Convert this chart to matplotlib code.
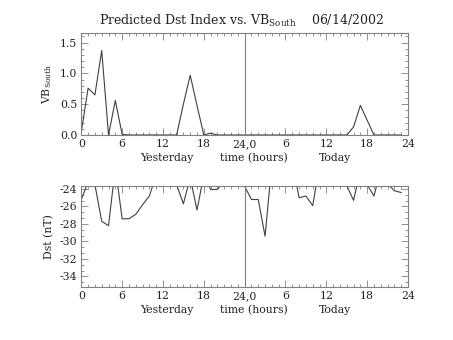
import matplotlib
matplotlib.use("Agg")
import matplotlib.pyplot as plt
from matplotlib.ticker import MultipleLocator, FixedLocator, FixedFormatter
import numpy as np

hours = list(range(48))
vb_south = [0.05, 0.76, 0.65, 1.37, 0.0, 0.56, 0.01, 0.0, 0.0, 0.0, 0.0, 0.0,
            0.0, 0.0, 0.0, 0.50, 0.97, 0.48, 0.0, 0.03, 0.0, 0.0, 0.0, 0.0,
            0.0, 0.0, 0.0, 0.0, 0.0, 0.0, 0.0, 0.0, 0.0, 0.0, 0.0, 0.0,
            0.0, 0.0, 0.0, 0.0, 0.13, 0.48, 0.24, 0.0, 0.0, 0.0, 0.0, 0.0]
dst = [-25.2, -23.2, -23.5, -27.7, -28.2, -21.5, -27.4, -27.4, -26.9, -25.8, -24.8, -22.4,
       -22.0, -21.5, -23.5, -25.7, -22.7, -26.4, -22.4, -24.05, -24.05, -23.0, -22.0, -22.5,
       -23.7, -25.2, -25.2, -29.4, -21.1, -21.5, -22.0, -21.0, -25.0, -24.8, -25.9, -21.3,
       -21.5, -22.0, -22.5, -23.6, -25.3, -21.9, -23.5, -24.8, -21.85, -23.4, -24.2, -24.4]
xtick_vals = [0, 6, 12, 18, 24, 30, 36, 42, 48]
xtick_labels = ["0", "6", "12", "18", "24,0", "6", "12", "18", "24"]
vb_ticks = [0.0, 0.5, 1.0, 1.5]
dst_ticks = [-24, -26, -28, -30, -32, -34]

plt.rcParams['font.family'] = ['DejaVu Serif']
plt.rcParams['mathtext.fontset'] = 'dejavuserif'
plt.rcParams['axes.unicode_minus'] = False

fig = plt.figure(figsize=(4.53, 3.4), dpi=100)
W, H = 453, 340
def rect(l, r, t, b):
    return [l / W, (H - b) / H, (r - l) / W, (b - t) / H]

ax1 = fig.add_axes(rect(81.3, 408, 33.3, 135))
ax2 = fig.add_axes(rect(81.3, 408, 185.7, 287.3))

axc = '#808080'
lc = '#404040'
fs = 7.8

def style(ax):
    for s in ax.spines.values():
        s.set_color(axc)
        s.set_linewidth(0.8)
    ax.set_xlim(0, 48)
    ax.xaxis.set_major_locator(FixedLocator(xtick_vals))
    ax.xaxis.set_major_formatter(FixedFormatter(xtick_labels))
    ax.xaxis.set_minor_locator(MultipleLocator(1))
    ax.tick_params(which='both', direction='in', top=True, right=True,
                   color=axc, labelsize=fs, labelcolor='#222222', width=0.6)
    ax.tick_params(which='major', length=5, pad=3)
    ax.tick_params(which='minor', length=2.5)
    ax.axvline(24, color=axc, lw=0.8)
    for x, s in [(12.5, "Yesterday"), (25.3, "time (hours)"), (37.3, "Today")]:
        ax.text(x, -0.175, s, transform=ax.get_xaxis_transform(),
                ha='center', va='top', fontsize=fs, color='#222222')

ax1.plot(hours, vb_south, color=lc, lw=0.8)
ax1.set_ylim(0, 1.65)
ax1.yaxis.set_major_locator(FixedLocator(vb_ticks))
ax1.yaxis.set_major_formatter(FixedFormatter(["%.1f" % v for v in vb_ticks]))
ax1.yaxis.set_minor_locator(MultipleLocator(0.1))
style(ax1)
ax1.set_ylabel(r"VB$_{\mathrm{South}}$", fontsize=fs, color='#222222', labelpad=4)

ax2.plot(hours, dst, color=lc, lw=0.8)
ax2.set_ylim(-35.25, -23.62)
ax2.yaxis.set_major_locator(FixedLocator(dst_ticks))
ax2.yaxis.set_major_formatter(FixedFormatter([str(v) for v in dst_ticks]))
ax2.yaxis.set_minor_locator(MultipleLocator(2 / 3))
style(ax2)
ax2.set_ylabel("Dst (nT)", fontsize=fs, color='#222222', labelpad=4)

fig.text(241.5 / W, 1 - 25 / H,
         r"Predicted Dst Index vs. VB$_{\mathrm{South}}$    06/14/2002",
         ha='center', va='baseline', fontsize=9, color='#222222')

fig.savefig("out.png", dpi=100)
